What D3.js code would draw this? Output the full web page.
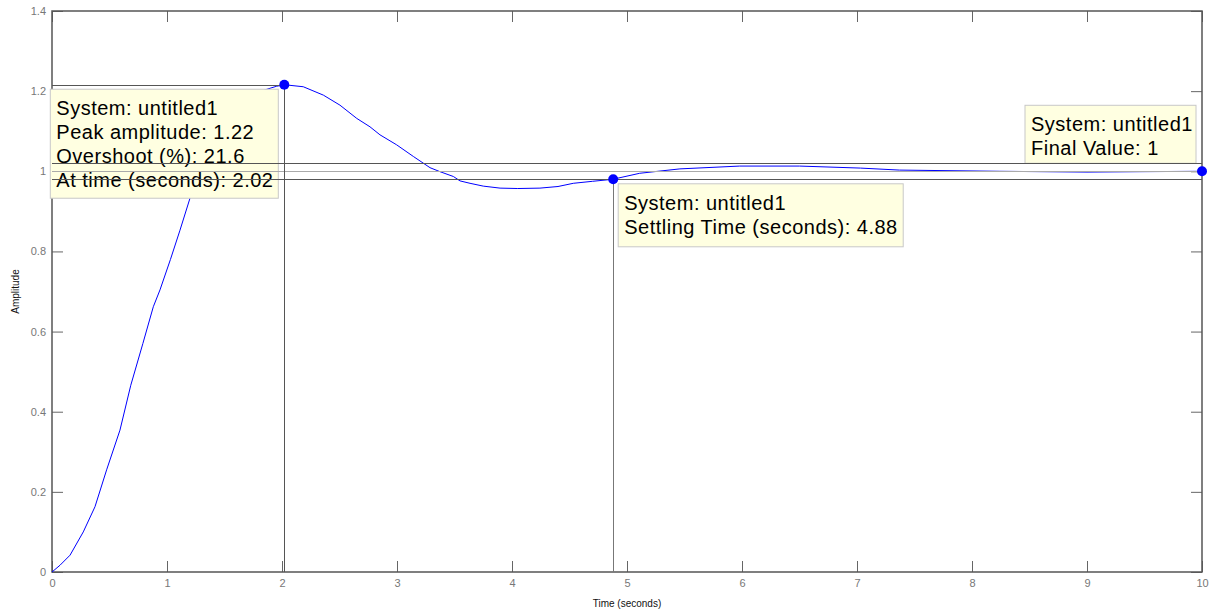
<!DOCTYPE html>
<html>
<head>
<meta charset="utf-8">
<script src="https://cdn.jsdelivr.net/npm/d3@7"></script>
<style>
  body { margin: 0; background: #fff; }
  svg { display: block; font-family: Arial, "Liberation Sans", sans-serif; }
  .axis text { fill: #777; font-size: 11px; }
  .axis line { stroke: #666; }
  .tip text { font-size: 20px; letter-spacing: 0.5px; fill: #000; }
</style>
</head>
<body>
<svg width="1212" height="611"></svg>
<script>
// step response
var time = [0, 0.07, 0.157, 0.272, 0.374, 0.475, 0.591, 0.685, 0.79, 0.881, 0.939, 1.03, 1.113, 1.2, 1.3, 1.42, 1.55, 1.7, 1.85, 1.95, 2.02,
            2.185, 2.36, 2.504, 2.65, 2.765, 2.852, 2.997, 3.142, 3.287, 3.374, 3.49, 3.548, 3.635, 3.75, 3.896, 4.05, 4.243, 4.4, 4.533, 4.7, 4.876,
            5.11, 5.46, 5.98, 6.5, 7.03, 7.37, 8.24, 9.0, 9.46, 10];
var amplitude = [0, 0.017, 0.042, 0.10, 0.163, 0.255, 0.354, 0.466, 0.57, 0.662, 0.704, 0.78, 0.853, 0.933, 1.0, 1.07, 1.13, 1.18, 1.203, 1.212, 1.216,
                 1.211, 1.190, 1.165, 1.132, 1.111, 1.091, 1.066, 1.037, 1.009, 0.999, 0.987, 0.976, 0.970, 0.963, 0.958, 0.957, 0.958, 0.962, 0.970, 0.975, 0.980,
                 0.995, 1.006, 1.013, 1.013, 1.008, 1.003, 1.0, 0.998, 0.999, 1.0];

var xTicks = [0, 1, 2, 3, 4, 5, 6, 7, 8, 9, 10];
var yTicks = [0, 0.2, 0.4, 0.6, 0.8, 1, 1.2, 1.4];

var peakTime = 2.02, peakAmp = 1.216;
var settleTime = 4.88, settleAmp = 0.98;
var finalTime = 10, finalAmp = 1;
var settleBand = [1.02, 1, 0.98];

var tipPeak = ["System: untitled1", "Peak amplitude: 1.22", "Overshoot (%): 21.6", "At time (seconds): 2.02"];
var tipSettle = ["System: untitled1", "Settling Time (seconds): 4.88"];
var tipFinal = ["System: untitled1", "Final Value: 1"];

var svg = d3.select("svg"),
    margin = {top: 11, right: 10, bottom: 39, left: 52},
    width = +svg.attr("width") - margin.left - margin.right,
    height = +svg.attr("height") - margin.top - margin.bottom;

var x = d3.scaleLinear().domain([0, 10]).range([0, width]),
    y = d3.scaleLinear().domain([0, 1.4]).range([height, 0]);

var g = svg.append("g")
    .attr("transform", "translate(" + margin.left + "," + margin.top + ")");

// axes with inward ticks
g.append("g").attr("class", "axis")
    .attr("transform", "translate(0," + height + ")")
    .call(d3.axisBottom(x).tickValues(xTicks).tickSize(-11).tickSizeOuter(0).tickPadding(7).tickFormat(d3.format("")));
g.append("g").attr("class", "axis")
    .call(d3.axisLeft(y).tickValues(yTicks).tickSize(-11).tickSizeOuter(0).tickPadding(6).tickFormat(d3.format("")));
g.append("g").attr("class", "axis")
    .call(d3.axisTop(x).tickValues(xTicks).tickSize(-11).tickSizeOuter(0).tickFormat(""));
g.append("g").attr("class", "axis")
    .attr("transform", "translate(" + width + ",0)")
    .call(d3.axisRight(y).tickValues(yTicks).tickSize(-11).tickSizeOuter(0).tickFormat(""));
g.selectAll(".axis .domain").remove();

g.append("rect")
    .attr("width", width).attr("height", height)
    .attr("fill", "none").attr("stroke", "#555").attr("stroke-width", 1.5);

svg.append("text")
    .attr("transform", "translate(19," + (margin.top + height / 2) + ") rotate(-90)")
    .attr("text-anchor", "middle")
    .style("font-size", "10px").style("fill", "#111")
    .text("Amplitude");
svg.append("text")
    .attr("x", margin.left + width / 2).attr("y", 607)
    .attr("text-anchor", "middle")
    .style("font-size", "10px").style("fill", "#111")
    .text("Time (seconds)");

// response curve
var data = time.map(function(t, i) { return {t: t, v: amplitude[i]}; });
var line = d3.line()
    .x(function(d) { return x(d.t); })
    .y(function(d) { return y(d.v); });
g.append("path")
    .datum(data)
    .attr("fill", "none")
    .attr("stroke", "#0000ff")
    .attr("stroke-width", 1)
    .attr("d", line);

// datatips
function tip(lines, px, py, dx, dy, w, h) {
    var t = g.append("g").attr("class", "tip")
        .attr("transform", "translate(" + (px + dx) + "," + (py + dy) + ")");
    t.append("rect")
        .attr("width", w).attr("height", h)
        .attr("fill", "#ffffe1").attr("stroke", "#c8c8c8");
    t.selectAll("text").data(lines).enter().append("text")
        .attr("x", 6)
        .attr("y", function(d, i) { return 26 + i * 24; })
        .text(function(d) { return d; });
}
tip(tipPeak, x(peakTime), y(peakAmp), -234, 4.5, 228, 109);
tip(tipSettle, x(settleTime), y(settleAmp), 5, 4.5, 285, 63);
tip(tipFinal, x(finalTime), y(finalAmp), -177, -66, 171, 58);

// reference lines
var ref = g.append("g").attr("stroke-width", 1).attr("fill", "none");
ref.selectAll("line.band").data(settleBand).enter().append("line")
    .attr("x1", 0).attr("x2", width)
    .attr("y1", function(d) { return Math.round(y(d)) + 0.5; })
    .attr("y2", function(d) { return Math.round(y(d)) + 0.5; })
    .attr("stroke", function(d) { return d === 1 ? "#aaa" : "#555"; });
ref.append("line")
    .attr("x1", 0).attr("x2", x(peakTime))
    .attr("y1", Math.round(y(peakAmp)) + 0.5).attr("y2", Math.round(y(peakAmp)) + 0.5)
    .attr("stroke", "#555");
ref.append("line")
    .attr("x1", Math.round(x(peakTime)) + 0.5).attr("x2", Math.round(x(peakTime)) + 0.5)
    .attr("y1", y(peakAmp)).attr("y2", height)
    .attr("stroke", "#555");
ref.append("line")
    .attr("x1", Math.round(x(settleTime)) + 0.5).attr("x2", Math.round(x(settleTime)) + 0.5)
    .attr("y1", y(settleAmp)).attr("y2", height)
    .attr("stroke", "#777");

// markers
g.selectAll("circle.mark")
    .data([[peakTime, peakAmp], [settleTime, settleAmp], [finalTime, finalAmp]])
    .enter().append("circle")
    .attr("cx", function(d) { return x(d[0]); })
    .attr("cy", function(d) { return y(d[1]); })
    .attr("r", 5)
    .attr("fill", "#0000ff");
</script>
</body>
</html>
